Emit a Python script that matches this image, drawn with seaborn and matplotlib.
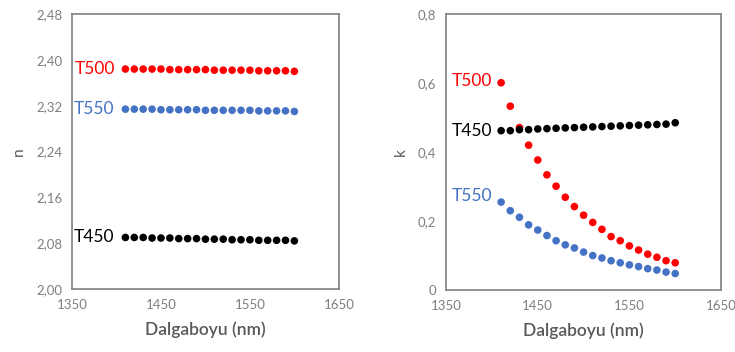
import numpy as np
import pandas as pd
import matplotlib
matplotlib.use("Agg")
import matplotlib.pyplot as plt
import seaborn as sns
from matplotlib.ticker import FuncFormatter

wavelength = [1410, 1420, 1430, 1440, 1450, 1460, 1470, 1480, 1490, 1500,
              1510, 1520, 1530, 1540, 1550, 1560, 1570, 1580, 1590, 1600]

n_T500 = [2.384, 2.384, 2.384, 2.384, 2.384, 2.383, 2.383, 2.383, 2.383, 2.383,
          2.382, 2.382, 2.382, 2.382, 2.382, 2.381, 2.381, 2.381, 2.381, 2.380]
n_T550 = [2.314, 2.314, 2.314, 2.314, 2.313, 2.313, 2.313, 2.313, 2.313, 2.312,
          2.312, 2.312, 2.312, 2.312, 2.312, 2.311, 2.311, 2.311, 2.311, 2.310]
n_T450 = [2.090, 2.090, 2.090, 2.089, 2.089, 2.089, 2.088, 2.088, 2.088, 2.087,
          2.087, 2.087, 2.086, 2.086, 2.086, 2.085, 2.085, 2.085, 2.085, 2.084]

k_T500 = [0.601, 0.533, 0.471, 0.420, 0.377, 0.334, 0.301, 0.269, 0.242, 0.217,
          0.196, 0.176, 0.155, 0.143, 0.128, 0.116, 0.104, 0.095, 0.085, 0.079]
k_T550 = [0.255, 0.230, 0.211, 0.189, 0.174, 0.158, 0.143, 0.131, 0.122, 0.110,
          0.100, 0.093, 0.085, 0.079, 0.073, 0.068, 0.062, 0.058, 0.052, 0.048]
k_T450 = [0.462, 0.462, 0.465, 0.465, 0.467, 0.468, 0.469, 0.470, 0.471, 0.472,
          0.473, 0.474, 0.475, 0.476, 0.477, 0.478, 0.479, 0.480, 0.481, 0.485]

series = ["T500", "T550", "T450"]
colors = {"T500": "#FF0000", "T550": "#4472C4", "T450": "#000000"}

def long_df(values):
    rows = []
    for name, vals in zip(series, values):
        for w, v in zip(wavelength, vals):
            rows.append({"wl": w, "val": v, "series": name})
    return pd.DataFrame(rows)

df_n = long_df([n_T500, n_T550, n_T450])
df_k = long_df([k_T500, k_T550, k_T450])

sns.set_theme(style="white")
plt.rcParams["font.family"] = ["Lato", "DejaVu Sans"]

fig = plt.figure(figsize=(7.35, 3.52), dpi=100)
ax1 = fig.add_axes([0.098, 0.179, 0.363, 0.781])
ax2 = fig.add_axes([0.607, 0.176, 0.374, 0.784])

gray = "#595959"
for ax, df in [(ax1, df_n), (ax2, df_k)]:
    sns.scatterplot(data=df, x="wl", y="val", hue="series", palette=colors,
                    s=30, edgecolor="none", legend=False, ax=ax)
    ax.set_xlim(1350, 1650)
    ax.set_xticks([1350, 1450, 1550, 1650])
    for sp in ax.spines.values():
        sp.set_color("#7f7f7f")
        sp.set_linewidth(1.2)
    ax.tick_params(axis="both", length=0, labelsize=9.5, labelcolor="#7f7f7f", pad=7)
    ax.set_xlabel("Dalgaboyu (nm)", fontsize=12.5, color=gray, labelpad=8,
                  fontweight="semibold")

ax1.set_ylim(2.00, 2.48)
ax1.set_yticks(np.arange(2.00, 2.481, 0.08))
ax1.yaxis.set_major_formatter(FuncFormatter(lambda v, p: f"{v:.2f}".replace(".", ",")))
ax1.set_ylabel("n", fontsize=11, color=gray, labelpad=7)

ax2.set_ylim(0, 0.8)
ax2.set_yticks([0, 0.2, 0.4, 0.6, 0.8])
ax2.yaxis.set_major_formatter(FuncFormatter(lambda v, p: "0" if abs(v) < 1e-9 else f"{v:.1f}".replace(".", ",")))
ax2.set_ylabel("k", fontsize=11, color=gray, labelpad=7)

fs = 12.5
ax1.text(1398, n_T500[0], "T500", color=colors["T500"], ha="right", va="center", fontsize=fs)
ax1.text(1398, n_T550[0], "T550", color=colors["T550"], ha="right", va="center", fontsize=fs)
ax1.text(1398, n_T450[0], "T450", color=colors["T450"], ha="right", va="center", fontsize=fs)

ax2.text(1400, 0.605, "T500", color=colors["T500"], ha="right", va="center", fontsize=fs)
ax2.text(1400, k_T450[0], "T450", color=colors["T450"], ha="right", va="center", fontsize=fs)
ax2.text(1400, 0.272, "T550", color=colors["T550"], ha="right", va="center", fontsize=fs)

fig.savefig("out.png", dpi=100)
